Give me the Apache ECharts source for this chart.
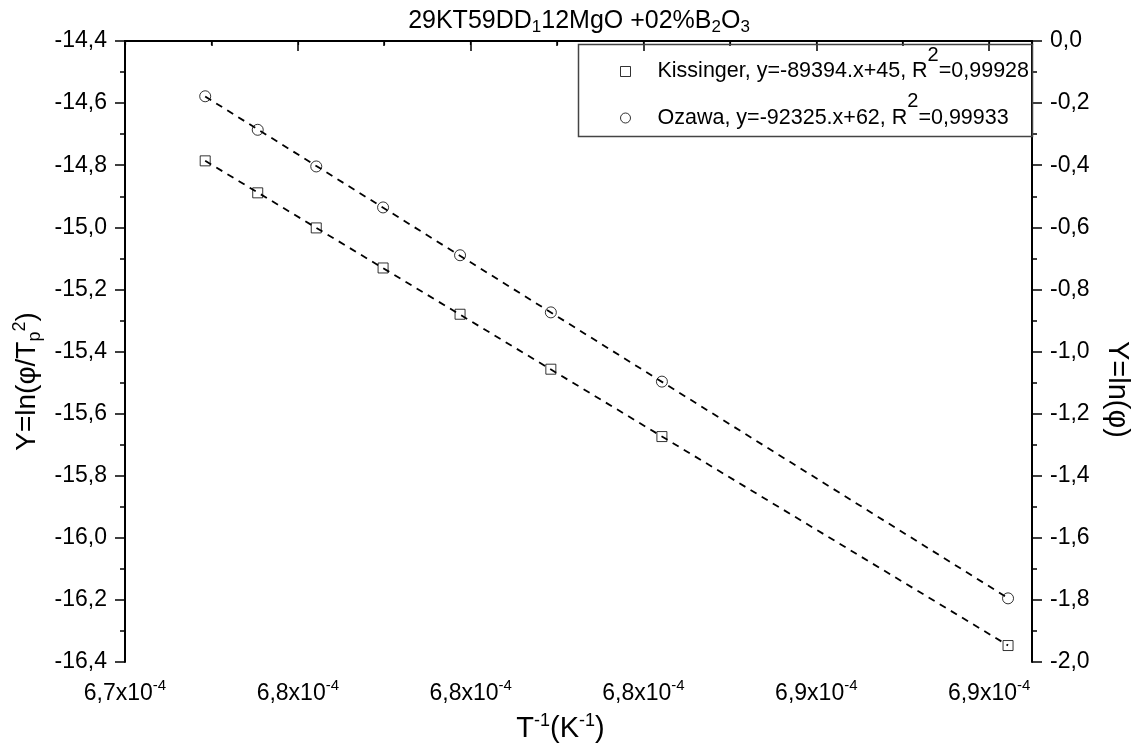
<!DOCTYPE html>
<html>
<head>
<meta charset="utf-8">
<title>29KT59DD1 12MgO +02%B2O3</title>
<script src="https://cdn.jsdelivr.net/npm/echarts@6.0.0/dist/echarts.min.js"></script>
<style>
    html, body { margin: 0; padding: 0; background: #fff; }
    #main { width: 1142px; height: 749px; }
</style>
</head>
<body>
<div id="main"></div>
<script>

// 1/Tp in units of 1e-4 K^-1
var invT = [6.7299, 6.7413, 6.7540, 6.7685, 6.7852, 6.8049, 6.8290, 6.9041];
// ln(phi/Tp^2)  (left axis)
var kissinger = [-14.786, -14.889, -15.002, -15.131, -15.280, -15.457, -15.674, -16.347];
// ln(phi)  (right axis)
var ozawa = [-0.178, -0.286, -0.404, -0.536, -0.690, -0.874, -1.097, -1.795];

// x axis range / step (1e-4 K^-1)
var xMin = 6.7125, xMax = 6.9093, xStep = 0.0375;

var legendNames = ['Kissinger', 'Ozawa'];
var legendText = {
    'Kissinger': 'Kissinger, y=-89394.x+45, R{sup|2}=0,99928',
    'Ozawa': 'Ozawa, y=-92325.x+62, R{sup|2}=0,99933'
};

var FONT = '"Liberation Sans", Arial, sans-serif';

function pairs(xs, ys) {
    var out = [];
    for (var i = 0; i < xs.length; i++) out.push([xs[i], ys[i]]);
    return out;
}

// least squares line, drawn from first to last point
function fitLine(xs, ys) {
    var n = xs.length, sx = 0, sy = 0, sxx = 0, sxy = 0;
    for (var i = 0; i < n; i++) {
        sx += xs[i]; sy += ys[i];
        sxx += xs[i] * xs[i]; sxy += xs[i] * ys[i];
    }
    var b = (n * sxy - sx * sy) / (n * sxx - sx * sx);
    var a = (sy - b * sx) / n;
    var x0 = Math.min.apply(null, xs), x1 = Math.max.apply(null, xs);
    return [[x0, a + b * x0], [x1, a + b * x1]];
}

function commaFmt(v) {
    return v.toFixed(1).replace('.', ',');
}

var myChart = echarts.init(document.getElementById('main'));

var option = {
    backgroundColor: '#fff',
    animation: false,
    title: {
        text: '{a|29KT59DD}{b|1}{a|12MgO +02%B}{b|2}{a|O}{b|3}',
        left: 574,
        textAlign: 'center',
        top: 2,
        textStyle: {
            fontWeight: 'normal',
            rich: {
                a: { fontSize: 25, fontFamily: FONT, color: '#000' },
                b: { fontSize: 17, fontFamily: FONT, color: '#000', padding: [12, 0, 0, 0] }
            }
        }
    },
    grid: {
        left: 125,
        right: 110,
        top: 41,
        bottom: 87,
        containLabel: false,
        outerBoundsMode: 'none'
    },
    legend: {
        data: legendNames,
        orient: 'vertical',
        left: 615,
        top: 40,
        itemGap: 9,
        itemWidth: 10,
        itemHeight: 10,
        itemStyle: { color: 'transparent', borderColor: '#000', borderWidth: 1 },
        formatter: function (name) { return legendText[name]; },
        textStyle: {
            padding: [0, 0, 0, 22],
            fontSize: 21.5,
            fontFamily: FONT,
            color: '#000',
            rich: {
                sup: { fontSize: 20, fontFamily: FONT, color: '#000', padding: [0, 0, 33, 0] }
            }
        }
    },
    graphic: [{
        // legend frame
        type: 'rect',
        left: 576,
        top: 42,
        shape: { width: 454, height: 92 },
        style: { fill: 'none', stroke: '#444', lineWidth: 1.5 },
        z: 5
    }],
    xAxis: [{
        type: 'value',
        position: 'bottom',
        min: xMin,
        max: xMax,
        interval: xStep,
        name: '{a|T}{b|-1}{a|(K}{b|-1}{a|)}',
        nameLocation: 'middle',
        nameGap: 50,
        nameTextStyle: {
            padding: [0, 36, 0, 0],
            rich: {
                a: { fontSize: 29, fontFamily: FONT, color: '#000' },
                b: { fontSize: 18, fontFamily: FONT, color: '#000', padding: [0, 0, 16, 0] }
            }
        },
        axisLine: { lineStyle: { color: '#000', width: 2 } },
        axisTick: { inside: false, length: 10, lineStyle: { color: '#000', width: 1.5 } },
        minorTick: { show: true, splitNumber: 2, length: 5, lineStyle: { color: '#000', width: 1.5 } },
        splitLine: { show: false },
        axisLabel: {
            margin: 16,
            formatter: function (v) {
                if (v > xMax - 0.004) return '';   // no label on the axis end
                return '{a|' + commaFmt(v) + 'x10}{b|-4}';
            },
            rich: {
                a: { fontSize: 23, fontFamily: FONT, color: '#000' },
                b: { fontSize: 15, fontFamily: FONT, color: '#000', padding: [0, 0, 16, 0] }
            }
        }
    }, {
        type: 'value',
        position: 'top',
        min: xMin,
        max: xMax,
        interval: xStep,
        axisLine: { lineStyle: { color: '#000', width: 2 } },
        axisTick: { inside: true, length: 4, lineStyle: { color: '#000', width: 1.2 } },
        minorTick: { show: true, splitNumber: 2, length: 4, lineStyle: { color: '#000', width: 1.2 } },
        splitLine: { show: false },
        axisLabel: { show: false }
    }],
    yAxis: [{
        type: 'value',
        position: 'left',
        min: -16.4,
        max: -14.4,
        interval: 0.2,
        name: '{a|Y=ln(φ/T}{c|p}{b|2}{a|)}',
        nameLocation: 'middle',
        nameGap: 76,
        nameRotate: 90,
        nameTextStyle: {
            padding: [0, 60, 0, 0],
            rich: {
                a: { fontSize: 28, fontFamily: FONT, color: '#000' },
                b: { fontSize: 18, fontFamily: FONT, color: '#000', padding: [0, 0, 16, 0] },
                c: { fontSize: 18, fontFamily: FONT, color: '#000', padding: [14, 0, 0, 0] }
            }
        },
        axisLine: { show: true, lineStyle: { color: '#000', width: 2 } },
        axisTick: { inside: false, length: 10, lineStyle: { color: '#000', width: 1.5 } },
        minorTick: { show: true, splitNumber: 2, length: 5, lineStyle: { color: '#000', width: 1.5 } },
        splitLine: { show: false },
        axisLabel: {
            margin: 18,
            fontSize: 23,
            fontFamily: FONT,
            color: '#000',
            formatter: commaFmt
        }
    }, {
        type: 'value',
        position: 'right',
        min: -2.0,
        max: 0,
        interval: 0.2,
        name: 'Y=ln(φ)',
        nameLocation: 'middle',
        nameGap: 70,
        nameRotate: -90,
        nameTextStyle: { fontSize: 29, fontFamily: FONT, color: '#000', padding: [0, 0, 0, 76] },
        axisLine: { show: true, lineStyle: { color: '#000', width: 2 } },
        axisTick: { inside: false, length: 10, lineStyle: { color: '#000', width: 1.5 } },
        minorTick: { show: true, splitNumber: 2, length: 5, lineStyle: { color: '#000', width: 1.5 } },
        splitLine: { show: false },
        axisLabel: {
            margin: 18,
            fontSize: 23,
            fontFamily: FONT,
            color: '#000',
            formatter: commaFmt
        }
    }],
    series: [{
        name: 'Kissinger',
        type: 'scatter',
        xAxisIndex: 0,
        yAxisIndex: 0,
        symbol: 'rect',
        symbolSize: 10,
        itemStyle: { color: 'transparent', borderColor: '#000', borderWidth: 1 },
        data: pairs(invT, kissinger),
        z: 3
    }, {
        name: 'Ozawa',
        type: 'scatter',
        xAxisIndex: 0,
        yAxisIndex: 1,
        symbol: 'circle',
        symbolSize: 11,
        itemStyle: { color: 'transparent', borderColor: '#000', borderWidth: 1 },
        data: pairs(invT, ozawa),
        z: 3
    }, {
        name: 'fitK',
        type: 'line',
        xAxisIndex: 0,
        yAxisIndex: 0,
        symbol: 'none',
        silent: true,
        lineStyle: { color: '#000', width: 1.8, type: [7, 6] },
        data: fitLine(invT, kissinger),
        z: 4
    }, {
        name: 'fitO',
        type: 'line',
        xAxisIndex: 0,
        yAxisIndex: 1,
        symbol: 'none',
        silent: true,
        lineStyle: { color: '#000', width: 1.8, type: [7, 6] },
        data: fitLine(invT, ozawa),
        z: 4
    }]
};

myChart.setOption(option);

</script>
</body>
</html>
